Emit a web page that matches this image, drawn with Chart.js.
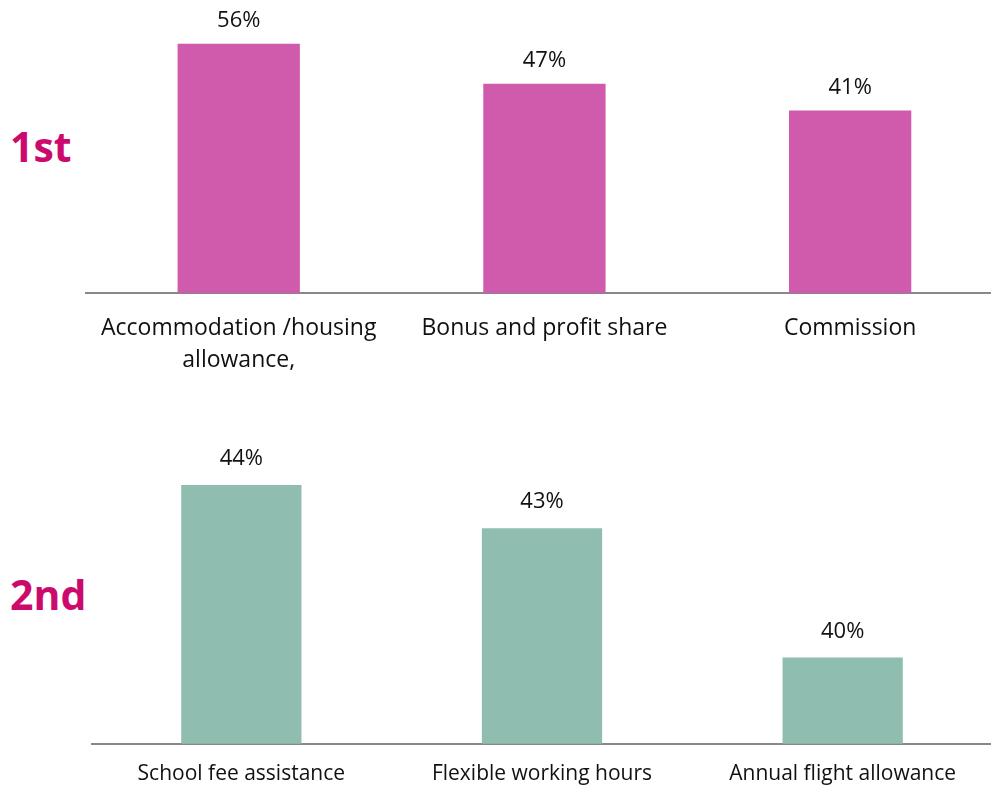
<!DOCTYPE html>
<html>
<head>
<meta charset="utf-8">
<script src="https://cdn.jsdelivr.net/npm/chart.js@4.4.1/dist/chart.umd.min.js"></script>
<style>
  html, body { margin: 0; padding: 0; background: #fff; overflow: hidden; width: 991px; height: 789px; }
  .rank { position: absolute; font-family: "Open Sans", sans-serif; font-weight: bold; font-size: 41px; line-height: 1; color: #cc0a6e; }
  .box { position: absolute; }
</style>
</head>
<body>
<div class="rank" style="left:10px; top:126px;">1st</div>
<div class="rank" style="left:10px; top:574px;">2nd</div>
<div class="box" style="left:82px; top:0; width:921px; height:401px;"><canvas id="firstChart"></canvas></div>
<div class="box" style="left:91px; top:420px; width:902px; height:385px;"><canvas id="secondChart"></canvas></div>
<script>
const firstLabels = [['Accommodation /housing', 'allowance,'], 'Bonus and profit share', 'Commission']
const firstValues = [56, 47, 41]
const secondLabels = ['School fee assistance', 'Flexible working hours', 'Annual flight allowance']
const secondValues = [44, 43, 40]

const pink = '#d05aac'
const teal = '#8fbdaf'
const axisGray = '#888888'
const fontFamily = '"Open Sans", sans-serif'

// writes "NN%" above each bar
const valueLabels = {
    id: 'valueLabels',
    afterDatasetsDraw(chart, args, opts) {
        const ctx = chart.ctx
        const meta = chart.getDatasetMeta(0)
        ctx.save()
        ctx.font = opts.size + 'px ' + fontFamily
        ctx.fillStyle = '#111'
        ctx.textAlign = 'center'
        ctx.textBaseline = 'middle'
        meta.data.forEach((bar, i) => {
            ctx.fillText(chart.data.datasets[0].data[i] + '%', bar.x, bar.y - opts.offset)
        })
        ctx.restore()
    }
}

function makeChart(id, labels, values, color, yMin, yMax, tickSize, tickLine, tickPad, pad, labelOpts) {
    return new Chart(id, {
        type: 'bar',
        data: {
            labels: labels,
            datasets: [{
                data: values,
                backgroundColor: color,
                borderWidth: 0,
                barPercentage: 1,
                categoryPercentage: 0.4,
            }]
        },
        options: {
            responsive: true,
            maintainAspectRatio: false,
            animation: false,
            layout: { padding: pad },
            plugins: {
                legend: { display: false },
                tooltip: { enabled: false },
                valueLabels: labelOpts,
            },
            scales: {
                x: {
                    grid: { display: false, drawTicks: false },
                    border: { display: true, color: axisGray, width: 2 },
                    ticks: {
                        color: '#111',
                        padding: tickPad,
                        maxRotation: 0,
                        autoSkip: false,
                        font: { family: fontFamily, size: tickSize, lineHeight: tickLine },
                    },
                },
                y: {
                    display: false,
                    min: yMin,
                    max: yMax,
                },
            },
        },
        plugins: [valueLabels]
    })
}

makeChart('firstChart', firstLabels, firstValues, pink, 0, 60, 23, 32 / 23, 19,
    { top: 26, bottom: 6, left: 0, right: 0 }, { size: 22, offset: 23 })
makeChart('secondChart', secondLabels, secondValues, teal, 38, 45, 21, 1.2, 18,
    { top: 22, bottom: 0, left: 0, right: 0 }, { size: 22, offset: 26 })
</script>
</body>
</html>
